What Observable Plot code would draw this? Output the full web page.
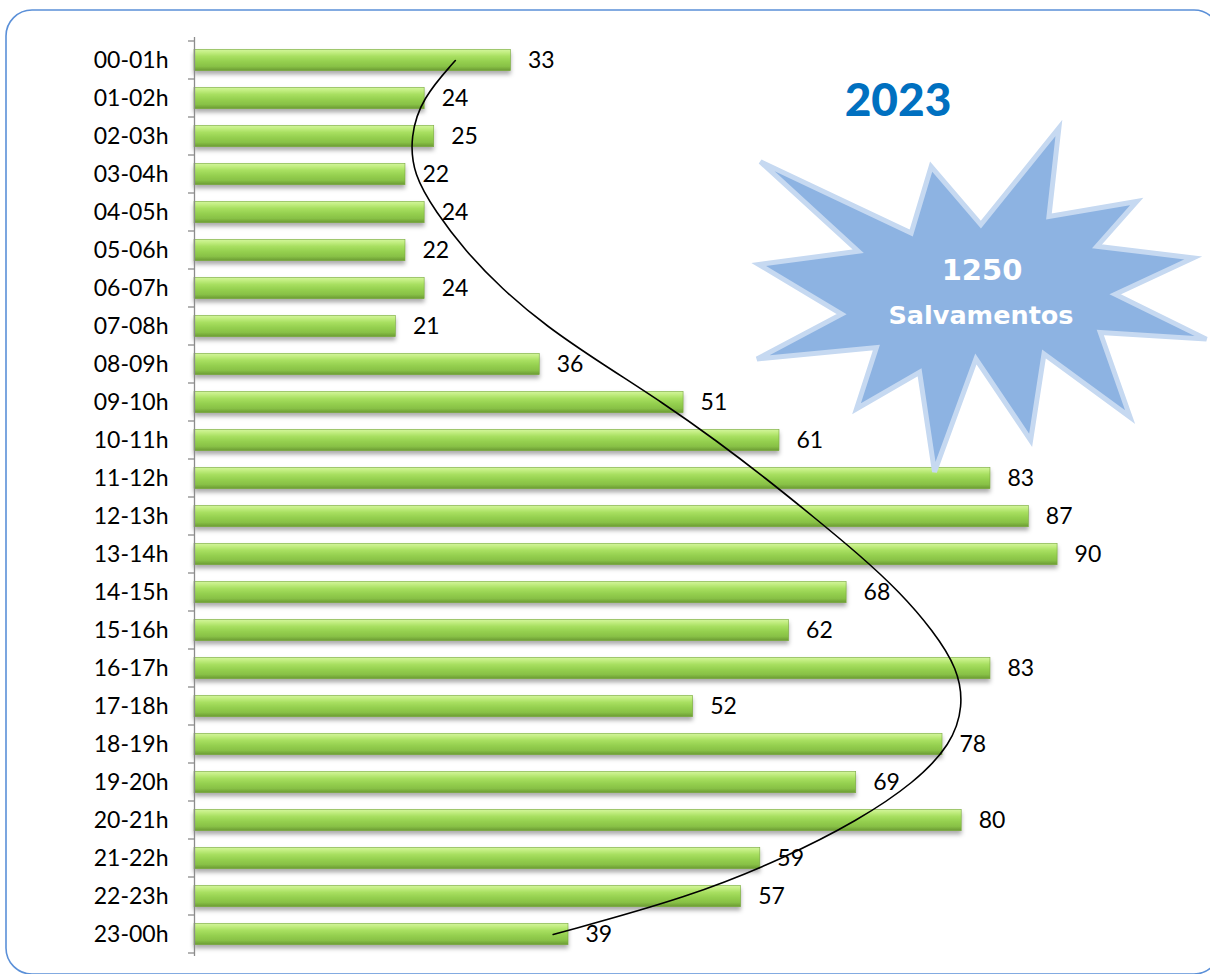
<!DOCTYPE html>
<html>
<head>
<meta charset="utf-8">
<script src="https://cdn.jsdelivr.net/npm/d3@7"></script>
<script src="https://cdn.jsdelivr.net/npm/@observablehq/plot@0.6"></script>
<style>
  html, body { margin: 0; padding: 0; background: #fff; }
  #chart { position: relative; width: 1210px; height: 974px; overflow: hidden; }
</style>
</head>
<body>
<div id="chart"></div>
<script>
// ---- data ----
const hours = ["00-01h","01-02h","02-03h","03-04h","04-05h","05-06h","06-07h","07-08h",
  "08-09h","09-10h","10-11h","11-12h","12-13h","13-14h","14-15h","15-16h",
  "16-17h","17-18h","18-19h","19-20h","20-21h","21-22h","22-23h","23-00h"];
const rescues = [33,24,25,22,24,22,24,21,36,51,61,83,87,90,68,62,83,52,78,69,80,59,57,39];
// trend line (polynomial trendline) values
const trend = [27.2,23.7,22.5,22.8,25.2,28.2,32.0,36.7,42.6,48.8,54.4,59.6,64.5,69.3,73.6,77.0,79.6,80.2,78.9,75.1,69.2,61.4,51.8,37.4];
const yearLabel = "2023";
const totalLabel = "1250";
const totalCaption = "Salvamentos";

const rows = hours.map((h, i) => ({hour: h, value: rescues[i]}));
const trendRows = hours.map((h, i) => ({hour: h, trend: trend[i]}));

const W = 1210, H = 974;
const plot = Plot.plot({
  width: W,
  height: H,
  marginLeft: 194,
  marginRight: 57,
  marginTop: 37,
  marginBottom: 18,
  style: {fontFamily: "Lato, 'Open Sans', sans-serif", fontSize: "23px", color: "#000", background: "transparent", overflow: "visible"},
  x: {domain: [0, 100], axis: null},
  y: {domain: hours, padding: 0, axis: null},
  marks: [
    Plot.barX(rows, {x: "value", y: "hour", insetTop: 8.3, insetBottom: 8.3, fill: "url(#barGrad)", stroke: "#79a83f", strokeWidth: 0.6}),
    Plot.axisY({tickSize: 0, tickPadding: 26, fontSize: 23, fill: "#000", label: null}),
    Plot.text(rows, {x: "value", y: "hour", text: d => String(d.value), dx: 17, textAnchor: "start", fontSize: 23, fill: "#000"}),
    Plot.line(trendRows, {x: "trend", y: "hour", curve: "basis", stroke: "#000", strokeWidth: 1.6}),
    Plot.ruleX([0], {stroke: "#8c8c8c", strokeWidth: 1.3})
  ]
});

document.getElementById("chart").appendChild(plot);

const svg = d3.select(plot);
const defs = svg.insert("defs", ":first-child");
const g = defs.append("linearGradient").attr("id", "barGrad").attr("x1", 0).attr("x2", 0).attr("y1", 0).attr("y2", 1);
[["0%","#d3f59e"],["14%","#c3ee82"],["32%","#a9e062"],["55%","#96d150"],["80%","#88c146"],["100%","#6a9933"]]
  .forEach(([o, c]) => g.append("stop").attr("offset", o).attr("stop-color", c));
const f = defs.append("filter").attr("id", "barShadow").attr("x", "-5%").attr("y", "-40%").attr("width", "110%").attr("height", "200%");
f.append("feDropShadow").attr("dx", 0).attr("dy", 3.5).attr("stdDeviation", 2.2).attr("flood-color", "#000").attr("flood-opacity", 0.33);
svg.selectAll("g[aria-label='bar']").attr("filter", "url(#barShadow)");

// frame
svg.insert("rect", "defs + *")
  .attr("x", 6).attr("y", 10).attr("width", 1214).attr("height", 964).attr("rx", 26)
  .attr("fill", "#fff").attr("stroke", "#5b90d8").attr("stroke-width", 1.6);

// axis separator ticks (from Plot's y scale)
const ys = plot.scale("y");
const bw = ys.bandwidth;
const x0 = plot.scale("x").apply(0);
const tickG = svg.append("g");
const tickYs = hours.map(h => ys.apply(h)).concat([ys.apply(hours[hours.length - 1]) + bw]);
tickYs.forEach(y => tickG.append("line").attr("x1", x0 - 6).attr("x2", x0).attr("y1", y).attr("y2", y)
  .attr("stroke", "#8c8c8c").attr("stroke-width", 1.3));

// starburst annotation
const starPts = [[761.7,160],[913.3,231.7],[933.3,165],[983.3,223.3],[1061.7,126],[1051.7,215],[1140,200],[1100,245],
  [1196.7,256.7],[1118.3,293.3],[1210,338.3],[1103.3,331.7],[1133.3,416.7],[1046.7,353.3],[1033.3,440],[978.3,358.3],
  [936.7,471.7],[921.7,371.7],[858.3,408.3],[878.3,346.7],[758.3,358.3],[843.3,313.3],[760,263.3],[860,250]];
svg.append("path")
  .attr("d", "M" + starPts.map(p => p.join(",")).join("L") + "Z")
  .attr("fill", "#8db3e2").attr("stroke", "#c6d9f1").attr("stroke-width", 5).attr("stroke-linejoin", "miter")
  .attr("transform", "translate(2.5,2.5) scale(0.995)");
svg.append("text").attr("x", 982).attr("y", 280).attr("text-anchor", "middle")
  .attr("font-family", "'DejaVu Sans', sans-serif").attr("font-weight", "bold").attr("font-size", 29).attr("fill", "#fff")
  .text(totalLabel);
svg.append("text").attr("x", 981).attr("y", 324).attr("text-anchor", "middle")
  .attr("font-family", "'DejaVu Sans', sans-serif").attr("font-weight", "bold").attr("font-size", 25.5).attr("fill", "#fff")
  .text(totalCaption);
svg.append("text").attr("x", 898).attr("y", 116).attr("text-anchor", "middle")
  .attr("font-family", "Lato, sans-serif").attr("font-weight", "900").attr("font-size", 46).attr("fill", "#0070c0")
  .text(yearLabel);
</script>
</body>
</html>
